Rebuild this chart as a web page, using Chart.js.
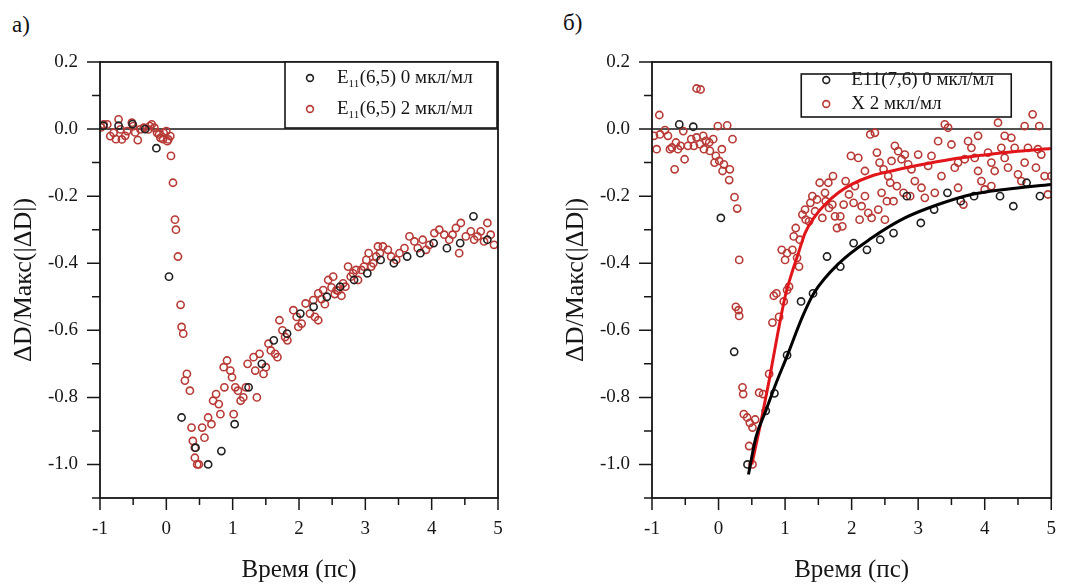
<!DOCTYPE html>
<html>
<head>
<meta charset="utf-8">
<script src="https://cdn.jsdelivr.net/npm/chart.js@4.4.1/dist/chart.umd.min.js"></script>
<style>
  body { margin: 0; background: #fff; width: 1076px; height: 586px; overflow: hidden; position: relative; font-family: "Liberation Serif", "DejaVu Serif", serif; }
  canvas { position: absolute; top: 0; }
  #chA { left: 0; }
  #chB { left: 540px; }
  .panel { position: absolute; font-size: 23px; color: #111; }
</style>
</head>
<body>
<div class="panel" style="left:12px;top:12px">а)</div>
<div class="panel" style="left:563px;top:10px">б)</div>
<canvas id="chA" width="540" height="586"></canvas>
<canvas id="chB" width="536" height="586"></canvas>
<script>
/* ---------- data ---------- */
const X_TICKS = [-1, -0.5, 0, 0.5, 1, 1.5, 2, 2.5, 3, 3.5, 4, 4.5, 5];
const X_TICK_LABELS = ['-1', '', '0', '', '1', '', '2', '', '3', '', '4', '', '5'];
const Y_TICKS = [-1.1, -1.0, -0.9, -0.8, -0.7, -0.6, -0.5, -0.4, -0.3, -0.2, -0.1, 0.0, 0.1, 0.2];
const Y_TICK_LABELS = ['', '-1.0', '', '-0.8', '', '-0.6', '', '-0.4', '', '-0.2', '', '0.0', '', '0.2'];

const X_TITLE = 'Время (пс)';
const Y_TITLE = 'ΔD/Макс(|ΔD|)';

// panel a) — E11(6,5), 0 µl/ml (black)
const A_BLACK_X = [-0.95, -0.72, -0.51, -0.32, -0.15, 0.04, 0.23, 0.44, 0.63, 0.83, 1.03, 1.24, 1.44, 1.62, 1.82, 2.02, 2.22, 2.42, 2.62, 2.83, 3.03, 3.23, 3.43, 3.63, 3.83, 4.03, 4.23, 4.43, 4.63, 4.84];
const A_BLACK_Y = [0.01, 0.01, 0.015, 0.0, -0.057, -0.44, -0.86, -0.95, -1.0, -0.96, -0.88, -0.77, -0.70, -0.63, -0.61, -0.55, -0.53, -0.50, -0.47, -0.45, -0.43, -0.39, -0.40, -0.38, -0.37, -0.34, -0.355, -0.34, -0.26, -0.33];

// panel a) — E11(6,5), 2 µl/ml (red)
const A_RED_X = [
  -0.985, -0.945, -0.89, -0.845, -0.795, -0.76, -0.72, -0.69, -0.67, -0.62, -0.59, -0.52, -0.50, -0.47, -0.43, -0.39, -0.34, -0.27, -0.25, -0.22, -0.18, -0.14, -0.11, -0.09, -0.05, -0.04, 0.0, 0.015, 0.03, 0.06,
  0.07, 0.10, 0.13, 0.145, 0.175, 0.215, 0.23, 0.255, 0.28, 0.31, 0.355, 0.38, 0.40, 0.43, 0.43, 0.465, 0.49, 0.54, 0.575, 0.63, 0.68, 0.705, 0.75, 0.79, 0.815,
  0.865, 0.875, 0.915, 0.965, 0.99, 1.015, 1.04, 1.08, 1.12, 1.16, 1.20, 1.225, 1.315, 1.34, 1.365, 1.405, 1.465, 1.50, 1.54, 1.575, 1.64, 1.675,
  1.705, 1.75, 1.79, 1.825, 1.915, 1.965, 1.99, 2.04, 2.10, 2.165, 2.24, 2.29, 2.34, 2.39, 2.49, 2.54, 2.59, 2.64,
  2.215, 2.29, 2.365, 2.44, 2.515, 2.565, 2.665, 2.70, 2.74, 2.78, 2.815, 2.86, 2.89, 2.94, 2.98, 3.015, 3.05, 3.09, 3.12, 3.165, 3.19, 3.22, 3.265,
  3.34, 3.39, 3.465, 3.515, 3.59, 3.665, 3.74, 3.79, 3.865, 3.915, 3.965, 4.04, 4.115, 4.19, 4.265, 4.315, 4.365, 4.415, 4.44, 4.515,
  4.59, 4.64, 4.69, 4.74, 4.79, 4.84, 4.89, 4.94
];
const A_RED_Y = [
  0.005, 0.014, 0.014, -0.021, -0.011, -0.03, 0.029, -0.001, -0.031, -0.02, -0.006, 0.019, 0.009, -0.01, -0.033, -0.001, 0.004, -0.001, 0.009, 0.014, 0.004, -0.011, -0.016, -0.026, -0.03, -0.011, -0.006, -0.036, -0.031, -0.021,
  -0.08, -0.16, -0.27, -0.30, -0.38, -0.524, -0.59, -0.61, -0.75, -0.73, -0.78, -0.89, -0.93, -0.95, -0.98, -1.0, -1.0, -0.89, -0.92, -0.86, -0.88, -0.81, -0.79, -0.82, -0.85,
  -0.71, -0.77, -0.69, -0.72, -0.74, -0.85, -0.77, -0.78, -0.81, -0.80, -0.77, -0.70, -0.68, -0.72, -0.80, -0.67, -0.73, -0.71, -0.64, -0.66, -0.67, -0.68,
  -0.57, -0.60, -0.62, -0.63, -0.54, -0.56, -0.59, -0.58, -0.52, -0.55, -0.56, -0.57, -0.507, -0.522, -0.472, -0.492, -0.482, -0.497,
  -0.51, -0.49, -0.48, -0.45, -0.44, -0.48, -0.46, -0.47, -0.41, -0.44, -0.43, -0.42, -0.45, -0.42, -0.41, -0.39, -0.37, -0.41, -0.40, -0.38, -0.35, -0.37, -0.35,
  -0.36, -0.38, -0.39, -0.37, -0.355, -0.32, -0.335, -0.355, -0.33, -0.36, -0.345, -0.31, -0.30, -0.315, -0.33, -0.315, -0.295, -0.37, -0.28, -0.32,
  -0.305, -0.33, -0.32, -0.305, -0.335, -0.28, -0.315, -0.345
];

// panel б) — E11(7,6), 0 µl/ml (black points + fit)
const B_BLACK_X = [-0.59, -0.38, 0.035, 0.235, 0.435, 0.71, 0.84, 1.03, 1.24, 1.42, 1.63, 1.83, 2.03, 2.23, 2.43, 2.63, 2.83, 3.04, 3.24, 3.44, 3.64, 3.84, 4.23, 4.43, 4.63, 4.83];
const B_BLACK_Y = [0.014, 0.007, -0.265, -0.664, -1.0, -0.84, -0.788, -0.674, -0.514, -0.49, -0.38, -0.41, -0.34, -0.36, -0.33, -0.31, -0.20, -0.28, -0.24, -0.19, -0.215, -0.20, -0.20, -0.23, -0.16, -0.20];
const B_BLACK_FIT_X = [0.45, 0.56, 0.71, 0.86, 1.03, 1.26, 1.43, 1.81, 2.3, 2.8, 3.3, 3.8, 4.3, 5.0];
const B_BLACK_FIT_Y = [-1.03, -0.92, -0.84, -0.76, -0.677, -0.56, -0.49, -0.40, -0.325, -0.265, -0.225, -0.195, -0.18, -0.165];

// panel б) — X, 2 µl/ml (red points + fit)
const B_RED_X = [
  -0.97, -0.93, -0.89, -0.88, -0.805, -0.76, -0.73, -0.70, -0.66, -0.64, -0.61, -0.57, -0.53, -0.51, -0.46, -0.41, -0.37, -0.33, -0.27, -0.33, -0.28, -0.23, -0.22, -0.19, -0.14, -0.13, -0.08, -0.06, -0.04, -0.01, 0.01, 0.05, 0.06, 0.08, 0.13, 0.17, 0.21, 0.16, 0.24, 0.28, 0.31,
  0.26, 0.30, 0.31, 0.36, 0.37, 0.38, 0.43, 0.47, 0.51, 0.46, 0.51, 0.55, 0.61, 0.67, 0.76, 0.81, 0.83, 0.91, 0.98, 1.03, 1.06,
  0.87, 0.95, 1.0, 1.03, 1.11, 1.18, 1.16, 1.21, 1.13, 1.22, 1.26, 1.30, 1.31, 1.36, 1.38, 1.41, 1.45, 1.48, 1.52, 1.56, 1.60, 1.61, 1.65, 1.66, 1.71, 1.72, 1.75, 1.78, 1.83, 1.86, 1.88, 1.91, 1.96, 1.99, 2.03, 2.05, 2.10, 2.12, 2.15, 2.20, 2.20, 2.25, 2.28, 2.30, 2.35, 2.38, 2.40, 2.42, 2.45, 2.48, 2.50, 2.53, 2.55, 2.58, 2.60, 2.63, 2.65, 2.68, 2.70, 2.75, 2.78, 2.80, 2.85, 2.88, 2.90, 2.95,
  3.0, 3.05, 3.10, 3.15, 3.20, 3.25, 3.30, 3.35, 3.40, 3.45, 3.50, 3.55, 3.60, 3.60, 3.68, 3.70, 3.75, 3.80, 3.85, 3.90, 3.90, 3.95, 4.0, 4.05, 4.10, 4.10, 4.15, 4.20, 4.25, 4.30, 4.30, 4.35, 4.40, 4.45, 4.50, 4.55, 4.60, 4.60, 4.65, 4.72, 4.77, 4.80, 4.82, 4.85, 4.90, 4.95, 5.0
];
const B_RED_Y = [
  -0.02, -0.06, 0.042, -0.016, -0.003, -0.02, -0.06, -0.055, -0.12, -0.04, -0.06, -0.05, -0.006, -0.09, -0.05, -0.03, -0.05, 0.121, 0.118, -0.025, -0.045, -0.02, -0.06, -0.035, -0.04, -0.065, -0.03, -0.10, -0.08, 0.009, -0.095, -0.06, -0.125, -0.105, 0.011, -0.12, -0.03, -0.152, -0.203, -0.237, -0.39,
  -0.53, -0.54, -0.557, -0.77, -0.79, -0.85, -0.86, -0.876, -0.89, -0.945, -1.0, -0.866, -0.786, -0.79, -0.73, -0.577, -0.497, -0.56, -0.514, -0.48, -0.47,
  -0.49, -0.36, -0.39, -0.37, -0.36, -0.384, -0.295, -0.41, -0.32, -0.33, -0.255, -0.24, -0.27, -0.275, -0.22, -0.20, -0.245, -0.21, -0.16, -0.265, -0.19, -0.215, -0.16, -0.235, -0.225, -0.14, -0.26, -0.295, -0.26, -0.29, -0.225, -0.155, -0.195, -0.08, -0.22, -0.17, -0.086, -0.27, -0.23, -0.125, -0.20, -0.25, -0.016, -0.265, -0.011, -0.07, -0.24, -0.10, -0.19, -0.12, -0.27, -0.215, -0.14, -0.16, -0.095, -0.215, -0.05, -0.17, -0.066, -0.09, -0.19, -0.076, -0.105, -0.20, -0.12, -0.155,
  -0.076, -0.175, -0.205, -0.11, -0.08, -0.19, -0.036, -0.14, 0.014, 0.004, -0.046, -0.115, -0.175, -0.10, -0.225, -0.09, -0.036, -0.056, -0.086, -0.125, -0.02, -0.155, -0.18, -0.07, -0.10, -0.17, -0.125, 0.019, -0.056, -0.086, -0.02, -0.115, -0.026, -0.056, -0.135, -0.155, 0.009, -0.10, -0.056, 0.044, -0.115, -0.06, 0.009, -0.076, -0.14, -0.195, -0.14
];
const B_RED_FIT_X = [0.5, 0.63, 0.76, 0.88, 1.0, 1.1, 1.2, 1.3, 1.45, 1.6, 1.8, 2.0, 2.3, 2.6, 3.0, 3.5, 4.0, 4.5, 5.0];
const B_RED_FIT_Y = [-1.0, -0.88, -0.75, -0.62, -0.5, -0.43, -0.37, -0.31, -0.26, -0.225, -0.19, -0.165, -0.14, -0.125, -0.108, -0.09, -0.077, -0.066, -0.058];

const A_LEGEND = [
  { color: 'black', parts: [['E'], ['11', 'sub'], ['(6,5) 0 мкл/мл']] },
  { color: 'red', parts: [['E'], ['11', 'sub'], ['(6,5) 2 мкл/мл']] }
];
const B_LEGEND = [
  { color: 'black', parts: [['E11(7,6) 0 мкл/мл']] },
  { color: 'red', parts: [['X 2 мкл/мл']] }
];

/* ---------- styling ---------- */
const FONT = '"Liberation Serif", "DejaVu Serif", serif';
const INK = '#161616';
const COL = { black: '#202020', red: 'rgb(184,58,54)' };
const FIT = { black: '#000000', red: '#e2161a' };

const pts = (xs, ys) => xs.map((x, i) => ({ x, y: ys[i] }));

function scatterSet(label, xs, ys, color, order) {
  return {
    label,
    data: pts(xs, ys),
    borderColor: COL[color],
    backgroundColor: 'rgba(0,0,0,0)',
    pointRadius: 3.6,
    pointBorderWidth: 1.6,
    showLine: false,
    order,
  };
}
function fitSet(xs, ys, color) {
  return {
    label: 'fit',
    data: pts(xs, ys),
    borderColor: FIT[color],
    borderWidth: 3,
    pointRadius: 0,
    showLine: true,
    cubicInterpolationMode: 'monotone',
    order: 0,
  };
}

// frame, zero line, outward major/minor ticks and the boxed legend
const decor = {
  id: 'decor',
  beforeDatasetsDraw(chart) {
    const { ctx, chartArea: a, scales: { y } } = chart;
    const y0 = y.getPixelForValue(0);
    ctx.save();
    ctx.strokeStyle = INK;
    ctx.lineWidth = 1.5;
    ctx.beginPath();
    ctx.moveTo(a.left, y0);
    ctx.lineTo(a.right, y0);
    ctx.stroke();
    ctx.restore();
  },
  afterDraw(chart, args, opts) {
    const { ctx, chartArea: a, scales: { x, y } } = chart;
    ctx.save();
    ctx.strokeStyle = INK;
    ctx.lineWidth = 1.8;
    ctx.strokeRect(a.left, a.top, a.right - a.left, a.bottom - a.top);
    ctx.lineWidth = 1.5;
    ctx.beginPath();
    X_TICKS.forEach((v, i) => {
      const px = x.getPixelForValue(v);
      const len = X_TICK_LABELS[i] ? 12 : 7;
      ctx.moveTo(px, a.bottom);
      ctx.lineTo(px, a.bottom + len);
    });
    Y_TICKS.forEach((v, i) => {
      const py = y.getPixelForValue(v);
      const len = Y_TICK_LABELS[i] ? 13 : 8;
      ctx.moveTo(a.left, py);
      ctx.lineTo(a.left - len, py);
    });
    ctx.stroke();

    // legend box
    const L = opts.box;
    const bx = a.right - L.right - L.w, by = a.top + L.top;
    ctx.fillStyle = '#fff';
    ctx.fillRect(bx, by, L.w, L.h);
    ctx.lineWidth = 1.6;
    ctx.strokeRect(bx, by, L.w, L.h);
    opts.items.forEach((it, k) => {
      const cy = by + L.row0 + k * L.rowGap;
      ctx.beginPath();
      ctx.strokeStyle = COL[it.color];
      ctx.lineWidth = 1.6;
      ctx.arc(bx + L.mark, cy, 3.4, 0, Math.PI * 2);
      ctx.stroke();
      let tx = bx + L.text;
      ctx.fillStyle = INK;
      ctx.textBaseline = 'middle';
      it.parts.forEach(([t, kind]) => {
        const sub = kind === 'sub';
        ctx.font = (sub ? '11px ' : '19px ') + FONT;
        ctx.fillText(t, tx, cy + (sub ? 6 : 0));
        tx += ctx.measureText(t).width + (sub ? 0.5 : 0);
      });
    });
    ctx.restore();
  },
};

function makeChart(id, datasets, layout, yAxisWidth, yTitlePad, legendOpts) {
  return new Chart(document.getElementById(id), {
    type: 'scatter',
    data: { datasets },
    plugins: [decor],
    options: {
      responsive: false,
      animation: false,
      layout: { padding: layout },
      plugins: {
        legend: { display: false },
        tooltip: { enabled: false },
        decor: legendOpts,
      },
      scales: {
        x: {
          type: 'linear',
          min: -1, max: 5,
          afterBuildTicks: (s) => { s.ticks = X_TICKS.map((v) => ({ value: v })); },
          afterFit: (s) => { s.height = 88; },
          grid: { display: false, drawTicks: false },
          border: { display: false },
          ticks: {
            padding: 20,
            color: INK,
            font: { family: FONT, size: 19 },
            maxRotation: 0,
            autoSkip: false,
            callback: (v, i) => X_TICK_LABELS[i],
          },
          title: { display: true, text: X_TITLE, color: INK, font: { family: FONT, size: 25 }, padding: { top: 0, bottom: 1 } },
        },
        y: {
          type: 'linear',
          min: -1.1, max: 0.2,
          afterBuildTicks: (s) => { s.ticks = Y_TICKS.map((v) => ({ value: v })); },
          afterFit: (s) => { s.width = yAxisWidth; },
          grid: { display: false, drawTicks: false },
          border: { display: false },
          ticks: {
            padding: 22,
            color: INK,
            font: { family: FONT, size: 19 },
            autoSkip: false,
            callback: (v, i) => Y_TICK_LABELS[i],
          },
          title: { display: true, text: Y_TITLE, color: INK, font: { family: FONT, size: 26 }, padding: { top: yTitlePad, bottom: 0 } },
        },
      },
    },
  });
}

makeChart('chA', [
  scatterSet('E11(6,5) 0', A_BLACK_X, A_BLACK_Y, 'black', 1),
  scatterSet('E11(6,5) 2', A_RED_X, A_RED_Y, 'red', 2),
], { top: 62, right: 42, left: 0, bottom: 0 }, 100, 9,
  { items: A_LEGEND, box: { right: 1, top: 0, w: 212, h: 66, row0: 16, rowGap: 31, mark: 25, text: 52 } });

makeChart('chB', [
  fitSet(B_BLACK_FIT_X, B_BLACK_FIT_Y, 'black'),
  fitSet(B_RED_FIT_X, B_RED_FIT_Y, 'red'),
  scatterSet('E11(7,6) 0', B_BLACK_X, B_BLACK_Y, 'black', 1),
  scatterSet('X 2', B_RED_X, B_RED_Y, 'red', 2),
], { top: 62, right: 23, left: 0, bottom: 0 }, 112, 21,
  { items: B_LEGEND, box: { right: 40, top: 12, w: 210, h: 43, row0: 6, rowGap: 24, mark: 25, text: 50 } });
</script>
</body>
</html>
